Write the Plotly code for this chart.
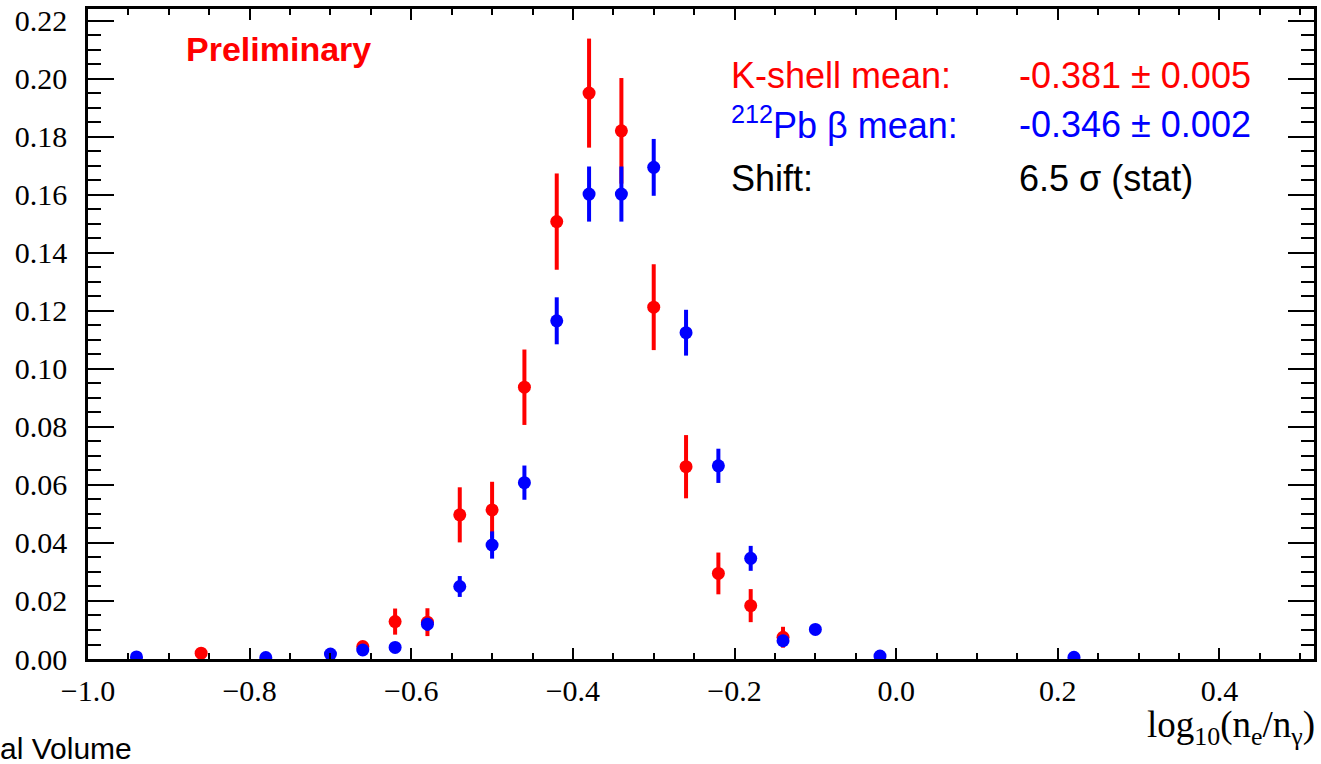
import plotly.graph_objects as go

# K-shell (red) histogram points
kshell_x = [-0.86, -0.66, -0.62, -0.58, -0.54, -0.50, -0.46, -0.42, -0.38, -0.34,
            -0.30, -0.26, -0.22, -0.18, -0.14]
kshell_y = [0.0020, 0.0043, 0.0129, 0.0127, 0.0497, 0.0514, 0.0937, 0.1508, 0.1951, 0.1821,
            0.1213, 0.0663, 0.0295, 0.0184, 0.0075]
kshell_err = [0.0010, 0.0018, 0.0045, 0.0048, 0.0095, 0.0097, 0.0130, 0.0166, 0.0188, 0.0182,
              0.0148, 0.0109, 0.0072, 0.0057, 0.0036]

# 212Pb beta (blue) histogram points
pb_x = [-0.94, -0.78, -0.70, -0.66, -0.62, -0.58, -0.54, -0.50, -0.46, -0.42, -0.38, -0.34,
        -0.30, -0.26, -0.22, -0.18, -0.14, -0.10, -0.02, 0.22]
pb_y = [0.0007, 0.0005, 0.0017, 0.0031, 0.0040, 0.0120, 0.0250, 0.0393, 0.0608, 0.1166,
        0.1603, 0.1603, 0.1695, 0.1125, 0.0666, 0.0347, 0.0063, 0.0102, 0.0010, 0.0006]
pb_err = [0.0005, 0.0004, 0.0010, 0.0012, 0.0013, 0.0022, 0.0036, 0.0047, 0.0059, 0.0081,
          0.0095, 0.0095, 0.0098, 0.0079, 0.0059, 0.0043, 0.0016, 0.0015, 0.0006, 0.0005]

RED = "rgb(255,0,0)"
BLUE = "rgb(0,0,255)"

fig = go.Figure()
fig.add_trace(go.Scatter(
    x=kshell_x, y=kshell_y, mode="markers",
    marker=dict(color=RED, size=13),
    error_y=dict(type="data", array=kshell_err, color=RED, thickness=4, width=0),
    showlegend=False))
fig.add_trace(go.Scatter(
    x=pb_x, y=pb_y, mode="markers",
    marker=dict(color=BLUE, size=13),
    error_y=dict(type="data", array=pb_err, color=BLUE, thickness=4, width=0),
    showlegend=False))

L, R, T, B = 88, 4, 9, 105
W, H = 1321, 764
pw, ph = W - L - R, H - T - B

def px(x):
    return (x - L) / pw

def py(y):
    return (H - B - y) / ph

tickfont = dict(family="Liberation Serif", size=30, color="black")

fig.update_xaxes(
    range=[-1.0, 0.517], showgrid=False, zeroline=False,
    showline=True, linecolor="black", linewidth=2.5, mirror="allticks",
    ticks="inside", ticklen=11, tickwidth=2, tickcolor="black",
    tick0=-1.0, dtick=0.2, tickformat=".1f", tickfont=tickfont,
    ticklabelstandoff=3,
    minor=dict(ticks="inside", ticklen=6, tickwidth=2, tickcolor="black", dtick=0.05, tick0=-1.0),
)
fig.update_yaxes(
    range=[0, 0.2241], showgrid=False, zeroline=False,
    showline=True, linecolor="black", linewidth=2.5, mirror="allticks",
    ticks="inside", ticklen=26, tickwidth=2, tickcolor="black",
    tick0=0, dtick=0.02, tickformat=".2f", tickfont=tickfont,
    ticklabelstandoff=12,
    minor=dict(ticks="inside", ticklen=13, tickwidth=2, tickcolor="black", dtick=0.005, tick0=0),
)

sans = "Liberation Sans"
ann = []
ann.append(dict(x=px(184), y=py(49), text="<b>Preliminary</b>",
                font=dict(family=sans, size=34, color=RED)))
ann.append(dict(x=px(731), y=py(75), text="K-shell mean:",
                font=dict(family=sans, size=36, color=RED)))
ann.append(dict(x=px(1019), y=py(75), text="-0.381 ± 0.005",
                font=dict(family=sans, size=36, color=RED)))
ann.append(dict(x=px(731), y=py(123), text="<sup>212</sup>Pb β mean:",
                font=dict(family=sans, size=36, color=BLUE)))
ann.append(dict(x=px(1019), y=py(125), text="-0.346 ± 0.002",
                font=dict(family=sans, size=36, color=BLUE)))
ann.append(dict(x=px(731), y=py(179), text="Shift:",
                font=dict(family=sans, size=36, color="black")))
ann.append(dict(x=px(1019), y=py(179), text="6.5 σ (stat)",
                font=dict(family=sans, size=36, color="black")))
ann.append(dict(x=px(-2), y=py(748), text="al Volume",
                font=dict(family=sans, size=30, color="black")))

for a in ann:
    a.update(xref="paper", yref="paper", xanchor="left", yanchor="middle", showarrow=False)

ann.append(dict(x=px(1320), y=py(728), xref="paper", yref="paper", xanchor="right",
                yanchor="middle", showarrow=False,
                text="log<sub>10</sub>(n<sub>e</sub>/n<sub>γ</sub>)",
                font=dict(family="Liberation Serif", size=37, color="black")))

fig.update_layout(
    width=W, height=H, margin=dict(l=L, r=R, t=T, b=B),
    paper_bgcolor="white", plot_bgcolor="white",
    annotations=ann, showlegend=False,
)

fig.write_html("out.html")
